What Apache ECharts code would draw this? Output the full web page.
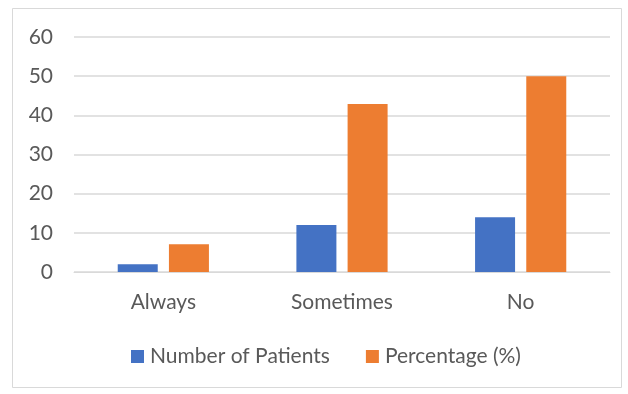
<!DOCTYPE html>
<html>
<head>
<meta charset="utf-8">
<script src="https://cdn.jsdelivr.net/npm/echarts@6/dist/echarts.min.js"></script>
<style>
  html, body { margin: 0; padding: 0; background: #fff; }
  #chart { width: 628px; height: 394px; }
</style>
</head>
<body>
<div id="chart"></div>
<script>
// Responses to the survey question
const categories = ['Always', 'Sometimes', 'No'];
const patientCounts = [2, 12, 14];
const percentages = [7.1, 42.9, 50];
const yTicks = { min: 0, max: 60, interval: 10 };

const textColor = '#595959';
const fontFamily = 'Lato, "Open Sans", sans-serif';

const chart = echarts.init(document.getElementById('chart'));
chart.setOption({
  animation: false,
  backgroundColor: '#ffffff',
  graphic: [{
    type: 'rect',
    shape: { x: 12.5, y: 8.5, width: 609, height: 379 },
    style: { fill: 'none', stroke: '#d9d9d9', lineWidth: 1 },
    silent: true
  }],
  grid: { left: 74, right: 18, top: 37, bottom: 122 },
  legend: {
    data: ['Number of Patients', 'Percentage (%)'],
    top: 341,
    left: 126,
    itemWidth: 13,
    itemHeight: 13,
    itemGap: 36,
    icon: 'rect',
    textStyle: { color: textColor, fontSize: 21, fontFamily: fontFamily, padding: [0, 0, 0, 1] }
  },
  xAxis: {
    type: 'category',
    data: categories,
    axisLine: { lineStyle: { color: '#d9d9d9', width: 1 } },
    axisTick: { show: false },
    axisLabel: { color: textColor, fontSize: 21, fontFamily: fontFamily, margin: 20 }
  },
  yAxis: {
    type: 'value',
    min: yTicks.min,
    max: yTicks.max,
    interval: yTicks.interval,
    axisLine: { show: false },
    axisTick: { show: false },
    splitLine: { lineStyle: { color: '#d9d9d9', width: 1.5 } },
    axisLabel: { color: textColor, fontSize: 21, fontFamily: fontFamily, margin: 21 }
  },
  series: [
    {
      name: 'Number of Patients',
      type: 'bar',
      data: patientCounts,
      barWidth: 40,
      barGap: '28%',
      itemStyle: { color: '#4472c4' }
    },
    {
      name: 'Percentage (%)',
      type: 'bar',
      data: percentages,
      barWidth: 40,
      itemStyle: { color: '#ed7d31' }
    }
  ]
});
</script>
</body>
</html>
